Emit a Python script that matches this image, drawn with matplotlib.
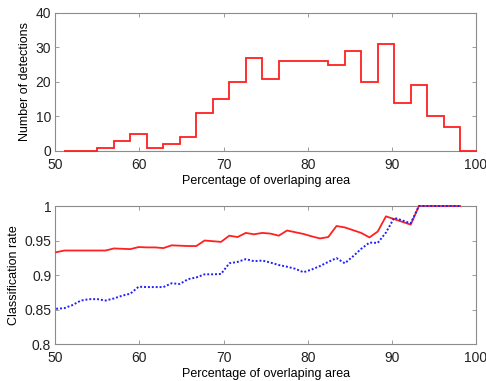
import numpy as np
import matplotlib
matplotlib.use("Agg")
import matplotlib.pyplot as plt

plt.rcParams['font.family'] = ['Liberation Sans', 'DejaVu Sans']
plt.rcParams['font.size'] = 9

# ---- data: histogram of detections ----
bin_edges = np.linspace(51.08, 100.08, 26)
detections = [0, 0, 1, 3, 5, 1, 2, 4, 11, 15, 20, 27, 21, 26, 26, 26,
              25, 29, 20, 31, 14, 19, 10, 7, 0]

# ---- data: classification rate ----
overlap = np.linspace(50.1, 98.12, 50)
rate_red = [0.933, 0.9355, 0.9355, 0.9355, 0.9355, 0.9355, 0.9355, 0.9385, 0.938, 0.9375,
            0.9405, 0.940, 0.940, 0.939, 0.943, 0.9425, 0.942, 0.942, 0.950, 0.949,
            0.948, 0.957, 0.955, 0.961, 0.959, 0.961, 0.960, 0.957, 0.9645, 0.962,
            0.9595, 0.956, 0.953, 0.955, 0.971, 0.969, 0.965, 0.961, 0.9545, 0.963,
            0.985, 0.981, 0.977, 0.973, 1.0, 1.0, 1.0, 1.0, 1.0, 1.0]
rate_blue = [0.851, 0.852, 0.8565, 0.863, 0.865, 0.865, 0.863, 0.866, 0.870, 0.873,
             0.883, 0.8825, 0.8825, 0.8825, 0.888, 0.887, 0.894, 0.8965, 0.901, 0.901,
             0.9015, 0.917, 0.919, 0.923, 0.920, 0.921, 0.918, 0.9145, 0.912, 0.909,
             0.904, 0.908, 0.913, 0.919, 0.9245, 0.917, 0.927, 0.938, 0.947, 0.9465,
             0.9615, 0.983, 0.979, 0.975, 1.0, 1.0, 1.0, 1.0, 1.0, 1.0]

x_ticks = [50, 60, 70, 80, 90, 100]
top_yticks = [0, 10, 20, 30, 40]
bot_yticks = [0.8, 0.85, 0.9, 0.95, 1.0]
bot_yticklabels = ['0.8', '0.85', '0.9', '0.95', '1']

fig = plt.figure(figsize=(4.86, 3.81), dpi=100)
ax1 = fig.add_axes([0.1138, 0.6037, 0.8656, 0.3622])
ax2 = fig.add_axes([0.1138, 0.0971, 0.8656, 0.3622])

def style(ax):
    for s in ax.spines.values():
        s.set_color('#8c8c8c')
        s.set_linewidth(0.8)
        s.set_zorder(1)
    ax.tick_params(direction='in', length=3, width=0.6, color='#8c8c8c',
                   top=True, right=True, labelcolor='#222222', labelsize=10)
    ax.tick_params(axis='x', pad=5)
    ax.tick_params(axis='y', pad=3)

ax1.stairs(detections, bin_edges, baseline=None, color='#ff2020', linewidth=1.3,
           clip_on=False, zorder=3)
ax1.set_xlim(50, 100)
ax1.set_ylim(0, 40)
ax1.set_xticks(x_ticks)
ax1.set_yticks(top_yticks)
ax1.set_xlabel('Percentage of overlaping area', labelpad=2)
ax1.set_ylabel('Number of detections', labelpad=3)
style(ax1)

ax2.plot(overlap, rate_red, color='#ff2020', linewidth=1.3, clip_on=False, zorder=3)
ax2.plot(overlap, rate_blue, color='#2020ff', linewidth=1.4, linestyle=(0, (1, 1)),
         clip_on=False, zorder=3)
ax2.set_xlim(50, 100)
ax2.set_ylim(0.8, 1.0)
ax2.set_xticks(x_ticks)
ax2.set_yticks(bot_yticks)
ax2.set_yticklabels(bot_yticklabels)
ax2.set_xlabel('Percentage of overlaping area', labelpad=2)
ax2.set_ylabel('Classification rate', labelpad=3)
style(ax2)

fig.savefig('out.png', dpi=100)
